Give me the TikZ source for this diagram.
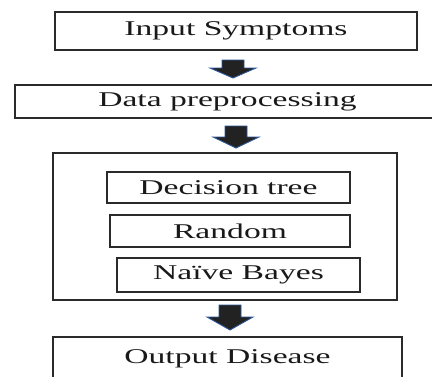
\documentclass[tikz,border=0pt]{standalone}
\usepackage{fontspec}
\setmainfont{Liberation Serif}
\newfontfamily\widefont[FakeStretch=1.6]{Liberation Serif}
\usetikzlibrary{calc}
\definecolor{boxline}{HTML}{2A2A2A}
\definecolor{arrowdark}{HTML}{222222}
\definecolor{arrowblue}{HTML}{2B5797}
\tikzset{
  box/.style={draw=boxline, line width=1.4pt, rectangle, inner sep=0pt,
    font=\widefont\fontsize{21}{25}\selectfont, text=black!90},
  pics/blockarrow/.style 2 args={code={
    \draw[draw=arrowblue, line width=0.9pt, fill=arrowdark, line join=miter]
      (-11,{-#1/2}) -- (11,{-#1/2}) -- (11,{#1/2-#2}) -- (23,{#1/2-#2})
      -- (0,{#1/2}) -- (-23,{#1/2-#2}) -- (-11,{#1/2-#2}) -- cycle;
  }}
}
\begin{document}
\begin{tikzpicture}[x=1pt,y=-1pt]
\useasboundingbox (0,0) rectangle (432,376);
\clip (0,0) rectangle (432,376);
\fill[white] (0,0) rectangle (432,376);
% boxes
\node[box, minimum width=362pt, minimum height=38pt] (in) at (236,31) {Input Symptoms};
\node[box, minimum width=425pt, minimum height=33pt] (pre) at (227.5,101.5) {Data preprocessing};
\node[box, minimum width=344pt, minimum height=147pt] (big) at (225,226.5) {};
\node[box, minimum width=243pt, minimum height=31pt] (dt) at (228.5,187.5) {Decision tree};
\node[box, minimum width=240pt, minimum height=32pt] (rf) at (230,231) {Random};
\node[box, minimum width=243pt, minimum height=34pt] (nb) at (238.5,275) {Naïve Bayes};
\node[box, minimum width=349pt, minimum height=48pt] (out) at (227.5,361) {};
\node[font=\widefont\fontsize{21}{25}\selectfont, text=black!90, inner sep=0pt] (outtext) at (out.center |- 0,359) {Output Disease};
% arrow columns
\coordinate (x1) at (233,0);
\coordinate (x2) at (236,0);
\coordinate (x3) at (230,0);
\coordinate (m1) at ($(in.south -| x1)!0.5!(pre.north -| x1)$);
\coordinate (m2) at ($(pre.south -| x2)!0.5!(big.north -| x2)$);
\coordinate (m3) at ($(big.south -| x3)!0.5!(out.north -| x3)$);
\pic at ([yshift=-1.5pt]m1) {blockarrow={18}{10}};
\pic at ([yshift=-1.5pt]m2) {blockarrow={22}{11}};
\pic at ([yshift=1pt]m3) {blockarrow={25}{13}};
\end{tikzpicture}
\end{document}
